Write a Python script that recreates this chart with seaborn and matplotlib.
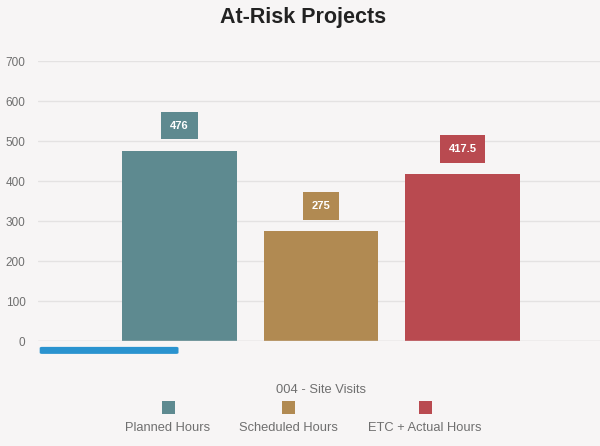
import matplotlib
matplotlib.use("Agg")
import matplotlib.pyplot as plt
from matplotlib.patches import FancyBboxPatch, Rectangle
import seaborn as sns
import pandas as pd

# ------------------- data ---------------------
project = ["004 - Site Visits"] * 3
series = ["Planned Hours", "Scheduled Hours", "ETC + Actual Hours"]
hours = [476, 275, 417.5]
value_labels = ["476", "275", "417.5"]
colors = ["#5e8a90", "#b18a52", "#b94a50"]

df = pd.DataFrame({"project": project, "series": series, "hours": hours})
palette = dict(zip(series, colors))

bg = "#f7f5f5"
sns.set_style("white")
plt.rcParams["font.family"] = ["Liberation Sans", "DejaVu Sans"]

fig = plt.figure(figsize=(6, 4.46), dpi=100, facecolor=bg)
ax = fig.add_axes([38 / 600, 1 - 341 / 446, 562 / 600, 280 / 446])
ax.set_facecolor(bg)

sns.barplot(data=df, x="project", y="hours", hue="series", palette=palette,
            width=0.75, gap=0.19, saturation=1, legend=False, ax=ax,
            edgecolor="none", linewidth=0)

ax.set_xlim(-0.5, 0.493)
ax.set_ylim(0, 700)
ax.set_yticks(range(0, 701, 100))
ax.grid(axis="y", color="#e4e2e2", linewidth=1)
ax.set_axisbelow(True)
for s in ax.spines.values():
    s.set_visible(False)
ax.tick_params(axis="y", length=0, pad=9, labelsize=8.5, labelcolor="#6f6f6f")
ax.tick_params(axis="x", length=0, pad=31, labelsize=9.3, labelcolor="#6f6f6f")
ax.set_xlabel("")
ax.set_ylabel("")
ax.axhline(0, color="#dddada", linewidth=1, zorder=1)

# value labels in coloured boxes
for cont, lab, col in zip(ax.containers, value_labels, colors):
    for bar in cont:
        ax.annotate(lab, (bar.get_x() + bar.get_width() / 2, bar.get_height()),
                    xytext=(0, 18), textcoords="offset points",
                    ha="center", va="center", color="white", fontsize=8,
                    fontweight="bold",
                    bbox=dict(boxstyle="square,pad=0.8", fc=col, ec="none"))

# scrollbar-like blue strip under the axis
ax.add_patch(FancyBboxPatch((0.003, -0.046), 0.247, 0.025,
                            boxstyle="round,pad=0,rounding_size=0.004",
                            transform=ax.transAxes, clip_on=False,
                            fc="#2a93cf", ec="none"))

# title
fig.text(0.505, 1 - 18 / 446, "At-Risk Projects", ha="center", va="center",
         fontsize=15.5, fontweight="bold", color="#222222")

# legend: marker above label
legend_x = [168, 288, 425]
for name, col, xp in zip(series, colors, legend_x):
    fig.patches.append(Rectangle((xp / 600 - 6.5 / 600, 1 - 414 / 446), 13 / 600, 13 / 446,
                                 transform=fig.transFigure, fc=col, ec="none"))
    fig.text(xp / 600, 1 - 428 / 446, name, ha="center", va="center",
             fontsize=9.3, color="#6f6f6f")

fig.savefig("out.png", dpi=100, facecolor=bg)
